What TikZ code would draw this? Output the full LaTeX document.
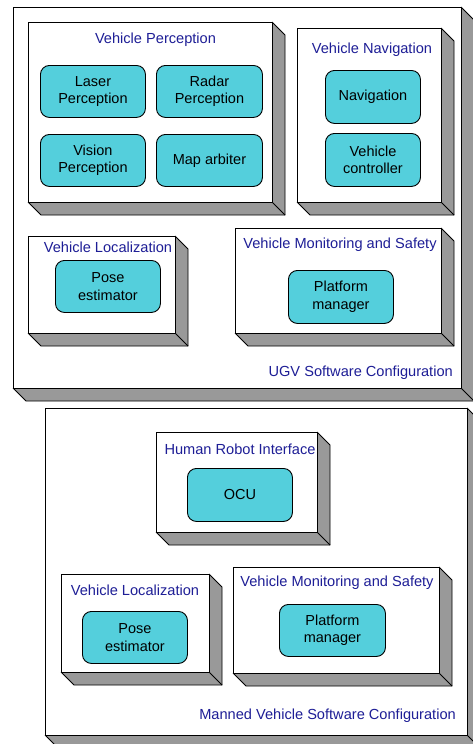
\documentclass[tikz,border=0pt]{standalone}
\usepackage{fontspec}
\setmainfont{Liberation Sans}
\definecolor{cyanfill}{RGB}{84,207,220}
\definecolor{titleblue}{RGB}{30,30,150}
\definecolor{shadegray}{RGB}{153,153,153}
\tikzset{
  edge/.style={draw=black, line width=0.9pt},
  facebox/.style={edge, fill=white},
  shadeface/.style={fill=shadegray},
  comp/.style={draw=black, line width=0.9pt, fill=cyanfill, rounded corners=9pt, align=center,
     font=\fontsize{14.5}{17.5}\selectfont, inner sep=0pt},
  ttl/.style={text=titleblue, font=\fontsize{14.6}{17.5}\selectfont, inner sep=0pt, anchor=center},
}
% #1 name, #2 x1, #3 y1, #4 x2, #5 y2
\newcommand\dbox[5]{%
  \fill[shadeface] (#4,#3) -- (#4+13,#3+13) -- (#4+13,#5+13) -- (#2+13,#5+13) -- (#2,#5) -- cycle;
  \draw[edge] (#4,#3) -- (#4+13,#3+13) -- (#4+13,#5+13) -- (#2+13,#5+13) -- (#2,#5);
  \draw[edge] (#4,#5) -- (#4+13,#5+13);
  \node[facebox, inner sep=0pt, anchor=north west, minimum width=#4-#2, minimum height=#5-#3] (#1) at (#2,#3) {};
}
% #1 name, #2 x1, #3 y1, #4 x2, #5 y2, #6 text
\newcommand\compbox[6]{%
  \node[comp, anchor=north west, minimum width=#4-#2, minimum height=#5-#3] (#1) at (#2,#3) {#6};
}
\begin{document}
\begin{tikzpicture}[x=1pt,y=-1pt]
\useasboundingbox (0,0) rectangle (473,744);
\clip (0,0) rectangle (473,744);
\fill[white] (0,0) rectangle (473,744);

% UGV software configuration
\dbox{ugv}{13}{7}{461}{388}
\node[ttl, anchor=base east] (ugvt) at (453,376) {UGV Software Configuration};

\dbox{vp}{28}{22}{272}{202}
\node[ttl] (vpt) at (155.5,39.5) {Vehicle Perception};
\compbox{laser}{40}{65}{145}{117}{Laser\\Perception}
\compbox{radar}{156}{65}{262}{117}{Radar\\Perception}
\compbox{vision}{40}{134}{145}{186}{Vision\\Perception}
\compbox{map}{156}{134}{262}{186}{Map arbiter}

\dbox{vn}{297}{28}{441}{202}
\node[ttl] (vnt) at (372,50) {Vehicle Navigation};
\compbox{nav}{325}{70}{420}{123}{Navigation}
\compbox{vctrl}{325}{133}{420}{186}{Vehicle\\controller}

\dbox{vl}{28}{236}{175}{333}
\node[ttl] (vlt) at (108,247) {Vehicle Localization};
\compbox{pose}{55}{260}{160}{312}{Pose\\estimator}

\dbox{vm}{235}{228}{441}{333}
\node[ttl] (vmt) at (340,245) {Vehicle Monitoring and Safety};
\compbox{pm}{288}{270}{393}{323}{Platform\\manager}

% Manned vehicle software configuration
\dbox{mv}{45}{408}{467}{735}
\node[ttl, anchor=base east] (mvt) at (456,719) {Manned Vehicle Software Configuration};

\dbox{hri}{156}{432}{317}{532}
\node[ttl] (hrit) at (240,449) {Human Robot Interface};
\compbox{ocu}{187}{468}{292}{521}{OCU}

\dbox{mvl}{61}{574}{209}{672}
\node[ttl] (mvlt) at (135,590) {Vehicle Localization};
\compbox{mpose}{82}{611}{187}{663}{Pose\\estimator}

\dbox{mvm}{233}{567}{439}{673}
\node[ttl] (mvmt) at (337,583) {Vehicle Monitoring and Safety};
\compbox{mpm}{279}{604}{385}{656}{Platform\\manager}
\end{tikzpicture}
\end{document}
